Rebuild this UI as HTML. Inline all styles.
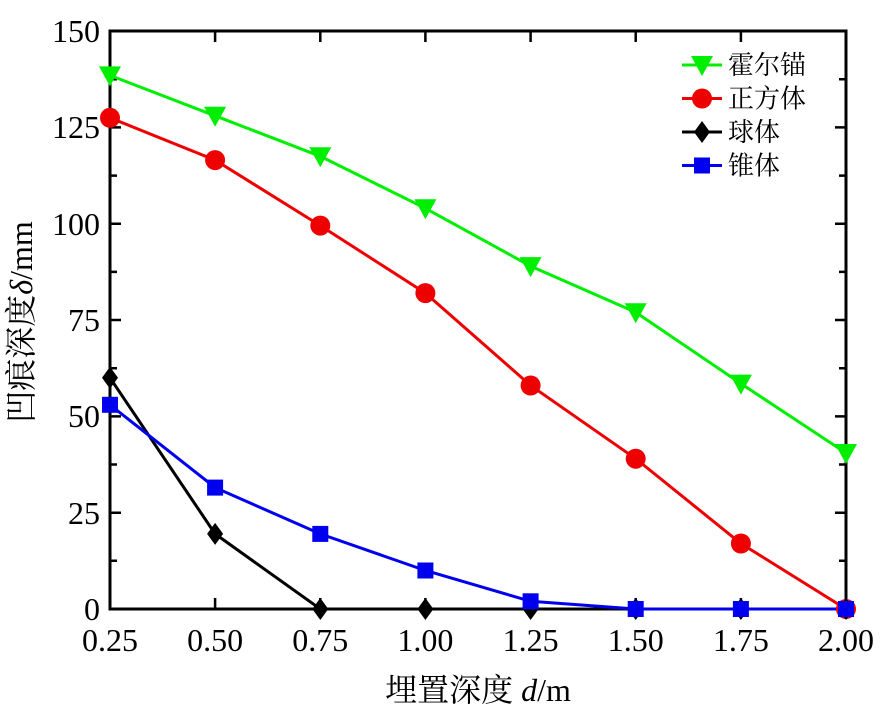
<!DOCTYPE html><html><head><meta charset="utf-8"><style>body{margin:0;background:#fff}svg{display:block}text{font-family:"Liberation Serif","Noto Serif CJK SC",serif;fill:#000}</style></head><body>
<svg width="893" height="723" xmlns="http://www.w3.org/2000/svg" xmlns:xlink="http://www.w3.org/1999/xlink">
<defs>
<polygon id="t" points="-11,-9 11,-9 0,11" fill="#00ee00"/>
<circle id="c" r="10" fill="#ee0000"/>
<polygon id="d" points="0,-11 8,0 0,11 -8,0" fill="#000"/>
<rect id="s" x="-8" y="-8" width="16" height="16" fill="#0000ee"/>
</defs>
<rect x="110" y="31" width="736" height="578" fill="none" stroke="#000" stroke-width="3"/>
<g stroke="#000" stroke-width="2.5">
<path d="M215.1,609v-11M320.3,609v-11M425.4,609v-11M530.6,609v-11M635.7,609v-11M740.9,609v-11M215.1,31v11M320.3,31v11M425.4,31v11M530.6,31v11M635.7,31v11M740.9,31v11"/>
<path d="M110,560.8h7M110,512.7h11M110,464.5h7M110,416.4h11M110,368.2h7M110,320h11M110,271.9h7M110,223.7h11M110,175.6h7M110,127.4h11M110,79.3h7"/>
<path d="M846,560.8h-7M846,512.7h-11M846,464.5h-7M846,416.4h-11M846,368.2h-7M846,320h-11M846,271.9h-7M846,223.7h-11M846,175.6h-7M846,127.4h-11M846,79.3h-7"/>
</g>
<g font-size="32" text-anchor="middle">
<text x="110" y="651">0.25</text><text x="215.1" y="651">0.50</text><text x="320.3" y="651">0.75</text><text x="425.4" y="651">1.00</text><text x="530.6" y="651">1.25</text><text x="635.7" y="651">1.50</text><text x="740.9" y="651">1.75</text><text x="846" y="651">2.00</text>
</g>
<g font-size="32" text-anchor="end">
<text x="100" y="620">0</text><text x="100" y="524">25</text><text x="100" y="427">50</text><text x="100" y="331">75</text><text x="100" y="235">100</text><text x="100" y="138">125</text><text x="100" y="42">150</text>
</g>
<g fill="none" stroke-width="3">
<polyline stroke="#00ee00" points="110,75.4 215.1,115.8 320.3,156.3 425.4,208.3 530.6,266.1 635.7,312.3 740.9,383.6 846,453"/>
<polyline stroke="#ee0000" points="110,117.8 215.1,160.1 320.3,225.6 425.4,293.1 530.6,385.5 635.7,458.7 740.9,543.5 846,609"/>
<polyline stroke="#000" points="110,377.8 215.1,533.9 320.3,609 425.4,609 530.6,609 635.7,609 740.9,609 846,609"/>
<polyline stroke="#0000ee" points="110,404.8 215.1,487.6 320.3,533.9 425.4,570.5 530.6,601.3 635.7,609 740.9,609 846,609"/>
</g>
<use xlink:href="#t" x="110" y="75.4"/><use xlink:href="#t" x="215.1" y="115.8"/><use xlink:href="#t" x="320.3" y="156.3"/><use xlink:href="#t" x="425.4" y="208.3"/><use xlink:href="#t" x="530.6" y="266.1"/><use xlink:href="#t" x="635.7" y="312.3"/><use xlink:href="#t" x="740.9" y="383.6"/><use xlink:href="#t" x="846" y="453"/>
<use xlink:href="#c" x="110" y="117.8"/><use xlink:href="#c" x="215.1" y="160.1"/><use xlink:href="#c" x="320.3" y="225.6"/><use xlink:href="#c" x="425.4" y="293.1"/><use xlink:href="#c" x="530.6" y="385.5"/><use xlink:href="#c" x="635.7" y="458.7"/><use xlink:href="#c" x="740.9" y="543.5"/><use xlink:href="#c" x="846" y="609"/>
<use xlink:href="#d" x="110" y="377.8"/><use xlink:href="#d" x="215.1" y="533.9"/><use xlink:href="#d" x="320.3" y="609"/><use xlink:href="#d" x="425.4" y="609"/><use xlink:href="#d" x="530.6" y="609"/><use xlink:href="#d" x="635.7" y="609"/><use xlink:href="#d" x="740.9" y="609"/><use xlink:href="#d" x="846" y="609"/>
<use xlink:href="#s" x="110" y="404.8"/><use xlink:href="#s" x="215.1" y="487.6"/><use xlink:href="#s" x="320.3" y="533.9"/><use xlink:href="#s" x="425.4" y="570.5"/><use xlink:href="#s" x="530.6" y="601.3"/><use xlink:href="#s" x="635.7" y="609"/><use xlink:href="#s" x="740.9" y="609"/><use xlink:href="#s" x="846" y="609"/>
<g stroke-width="3">
<line x1="682" y1="65" x2="722" y2="65" stroke="#00ee00"/>
<line x1="682" y1="98.5" x2="722" y2="98.5" stroke="#ee0000"/>
<line x1="682" y1="132" x2="722" y2="132" stroke="#000"/>
<line x1="682" y1="165.5" x2="722" y2="165.5" stroke="#0000ee"/>
</g>
<use xlink:href="#t" x="702" y="65"/><use xlink:href="#c" x="702" y="98.5"/><use xlink:href="#d" x="702" y="132"/><use xlink:href="#s" x="702" y="165.5"/>
<g font-size="26">
<text x="728" y="74">霍尔锚</text><text x="728" y="107.5">正方体</text><text x="728" y="141">球体</text><text x="728" y="174.5">锥体</text>
</g>
<text x="478" y="701" font-size="32" text-anchor="middle">埋置深度 <tspan font-style="italic">d</tspan>/m</text>
<text transform="translate(32,322) rotate(-90)" font-size="32" text-anchor="middle">凹痕深度<tspan font-style="italic">δ</tspan>/mm</text>
</svg></body></html>
